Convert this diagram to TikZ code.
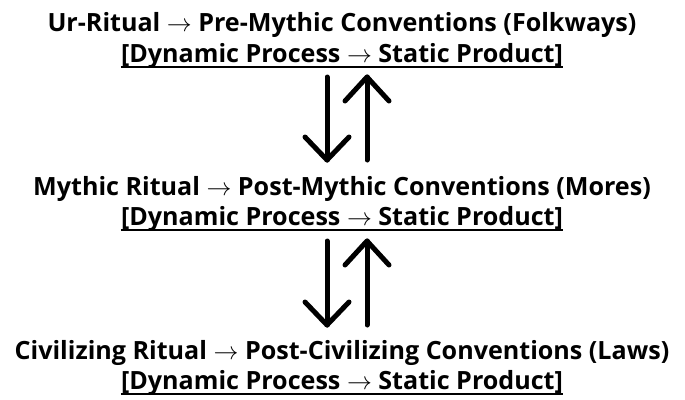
\documentclass[tikz,border=0pt]{standalone}
\usepackage{fontspec}
\setmainfont{Open Sans}
\begin{document}
\begin{tikzpicture}[x=1pt,y=-1pt,
  lbl/.style={inner sep=0pt,anchor=base,font=\fontsize{25.1}{30}\selectfont\bfseries},
  uline/.style={line width=2pt},
  bigarrow/.style={line width=5pt,line cap=round,line join=round}]
\useasboundingbox (0,0) rectangle (685,399);
\node[lbl] (a1) at (342,31) {Ur-Ritual $\rightarrow$ Pre-Mythic Conventions (Folkways)};
\node[lbl] (a2) at (342,62) {[Dynamic Process $\rightarrow$ Static Product]};
\node[lbl] (b1) at (342,195) {Mythic Ritual $\rightarrow$ Post-Mythic Conventions (Mores)};
\node[lbl] (b2) at (342,225) {[Dynamic Process $\rightarrow$ Static Product]};
\node[lbl] (c1) at (342,359) {Civilizing Ritual $\rightarrow$ Post-Civilizing Conventions (Laws)};
\node[lbl] (c2) at (342,389) {[Dynamic Process $\rightarrow$ Static Product]};
\foreach \n in {a2,b2,c2}
  \draw[uline] ([yshift=-4.5]\n.base west) -- ([yshift=-4.5]\n.base east);
% arrows pair 1
\coordinate (d1s) at (327,77);
\coordinate (d1e) at (327,160);
\coordinate (u1s) at (367,160);
\coordinate (u1e) at (367,77);
\draw[bigarrow] (d1s) -- (d1e);
\draw[bigarrow] ([shift={(-22,-23)}]d1e) -- (d1e) -- ([shift={(22,-23)}]d1e);
\draw[bigarrow] (u1s) -- (u1e);
\draw[bigarrow] ([shift={(-22,24)}]u1e) -- (u1e) -- ([shift={(22,24)}]u1e);
% arrows pair 2
\coordinate (d2s) at (327,241);
\coordinate (d2e) at (327,325);
\coordinate (u2s) at (367,325);
\coordinate (u2e) at (367,241);
\draw[bigarrow] (d2s) -- (d2e);
\draw[bigarrow] ([shift={(-22,-23)}]d2e) -- (d2e) -- ([shift={(22,-23)}]d2e);
\draw[bigarrow] (u2s) -- (u2e);
\draw[bigarrow] ([shift={(-22,24)}]u2e) -- (u2e) -- ([shift={(22,24)}]u2e);
\end{tikzpicture}
\end{document}
